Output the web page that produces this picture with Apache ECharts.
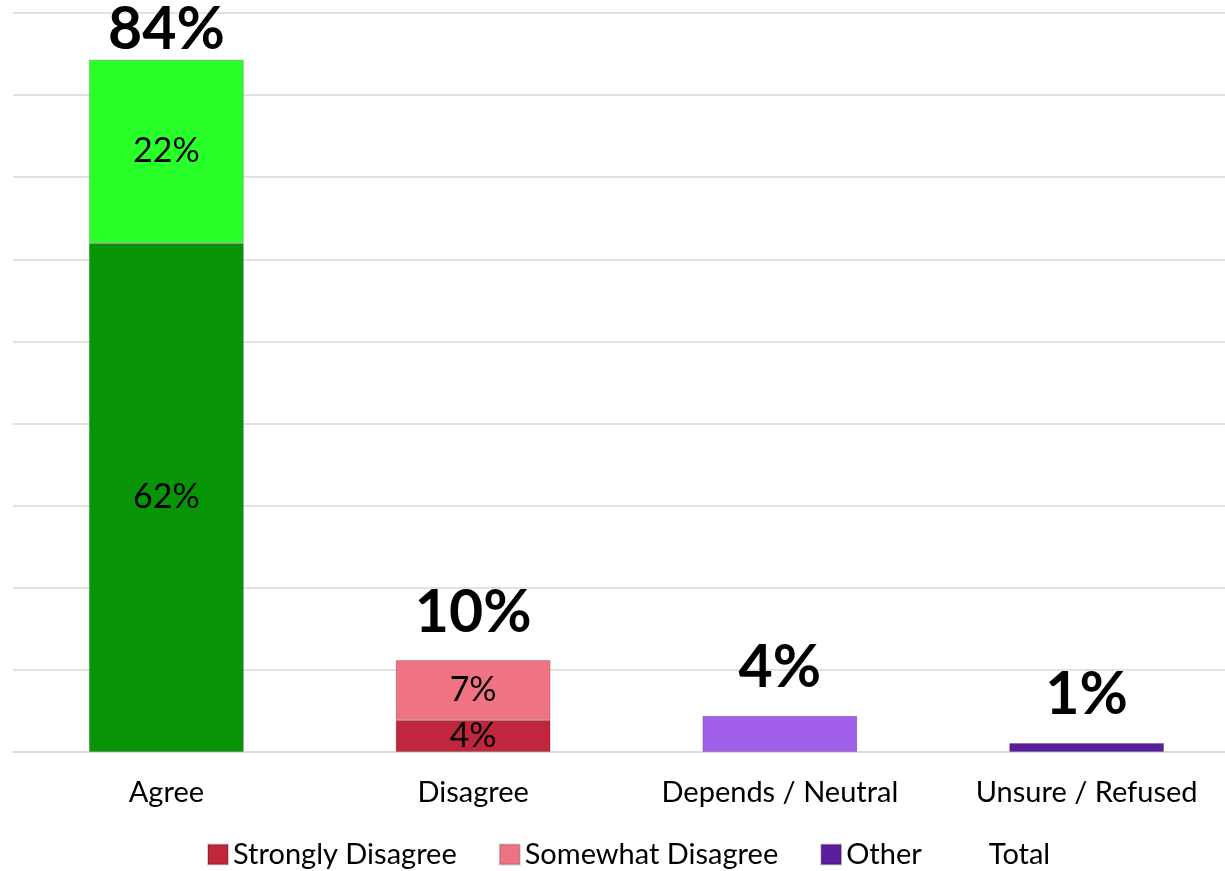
<!DOCTYPE html>
<html>
<head>
<meta charset="utf-8">
<script src="https://cdn.jsdelivr.net/npm/echarts@6/dist/echarts.min.js"></script>
<style>html,body{margin:0;padding:0;background:#fff;overflow:hidden;}#c{width:1225px;height:871px;}</style>
</head>
<body>
<div id="c"></div>
<script>
const categories = ['Agree', 'Disagree', 'Depends / Neutral', 'Unsure / Refused'];
const stronglyAgree = [62, null, null, null];
const somewhatAgree = [22.3, null, null, null];
const stronglyDisagree = [null, 3.9, null, null];
const somewhatDisagree = [null, 7.3, null, null];
const dependsNeutral = [null, null, 4.4, null];
const other = [null, null, null, 1.1];
const totalLabels = ['84%', '10%', '4%', '1%'];
const yTicks = [0, 10, 20, 30, 40, 50, 60, 70, 80, 90];

const FONT = 'Lato';
const border = {borderColor: 'rgba(0,0,0,0.18)', borderWidth: 1};
const innerLabel = {
  show: true, position: 'inside', color: '#000', fontFamily: FONT, fontSize: 34,
  formatter: p => Math.round(p.value) + '%'
};
function seg(name, data, color, withLabel) {
  return {
    name, type: 'bar', stack: 'all', data, barWidth: '50.5%',
    itemStyle: Object.assign({color}, border),
    label: withLabel ? innerLabel : {show: false},
    emphasis: {disabled: true}
  };
}
const chart = echarts.init(document.getElementById('c'), null, {renderer: 'canvas'});
chart.setOption({
  animation: false,
  // plot area runs slightly past the right edge of the picture, as in the original
  grid: {left: 13, width: 1227, top: 13, bottom: 119, containLabel: false, outerBoundsMode: 'none'},
  legend: {
    data: ['Strongly Disagree', 'Somewhat Disagree', 'Other', 'Total'],
    top: 840, left: 207, padding: 0, itemWidth: 20, itemHeight: 20, itemGap: 42, icon: 'rect',
    textStyle: {fontFamily: FONT, fontSize: 29, color: '#000'}
  },
  xAxis: {
    type: 'category', data: categories,
    axisLine: {lineStyle: {color: '#d9d9d9', width: 1.5}},
    axisTick: {show: false},
    axisLabel: {fontFamily: FONT, fontSize: 29, color: '#000', margin: 26, interval: 0}
  },
  yAxis: {
    type: 'value', min: yTicks[0], max: yTicks[yTicks.length - 1], interval: yTicks[1] - yTicks[0],
    axisLabel: {show: false}, axisLine: {show: false}, axisTick: {show: false},
    splitLine: {lineStyle: {color: '#d9d9d9', width: 1.5}}
  },
  series: [
    seg('Strongly Agree', stronglyAgree, '#079507', true),
    seg('Somewhat Agree', somewhatAgree, '#29ff29', true),
    seg('Strongly Disagree', stronglyDisagree, '#c0273d', true),
    seg('Somewhat Disagree', somewhatDisagree, '#f07384', true),
    seg('Depends / Neutral', dependsNeutral, '#a25fea', false),
    seg('Other', other, '#5a1e9e', false),
    {
      name: 'Total', type: 'bar', stack: 'all', barWidth: '50.5%',
      itemStyle: {color: 'rgba(0,0,0,0)'},
      emphasis: {disabled: true},
      data: totalLabels.map((t, i) => ({
        value: 0,
        // the tallest bar's label is pushed down to stay inside the plot area
        label: i === 0 ? {distance: 0} : undefined
      })),
      label: {
        show: true, position: 'top', distance: 18, color: '#000',
        fontFamily: FONT, fontWeight: 'bold', fontSize: 59,
        formatter: p => totalLabels[p.dataIndex]
      }
    }
  ]
});
</script>
</body>
</html>
